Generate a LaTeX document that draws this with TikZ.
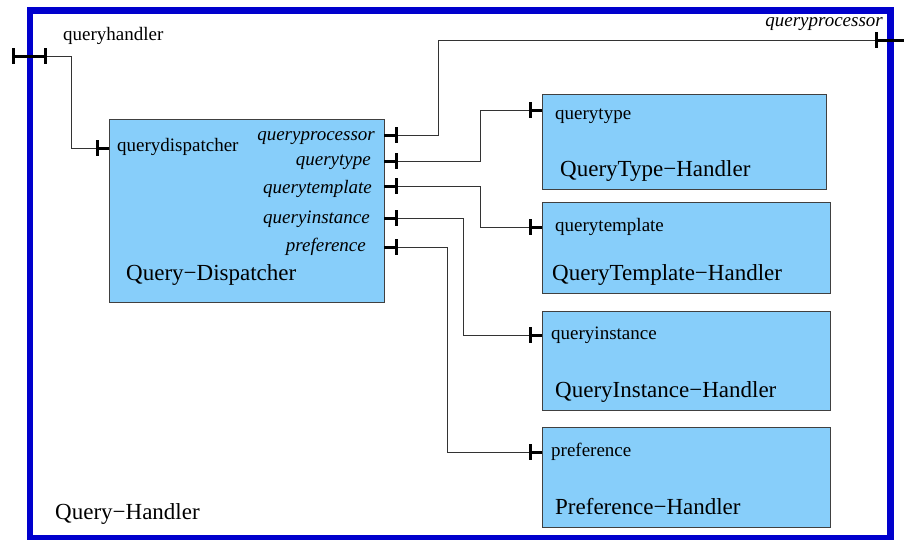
\documentclass[tikz,border=0pt]{standalone}
\usepackage{fontspec}
\setmainfont{Liberation Serif}
\usetikzlibrary{calc}
\definecolor{frameblue}{RGB}{0,0,205}
\definecolor{boxblue}{RGB}{135,206,250}
\begin{document}
\begin{tikzpicture}[x=1pt,y=-1pt,
  box/.style={draw=black!75,line width=1pt,fill=boxblue,inner sep=0pt,outer sep=0pt,anchor=north west},
  wire/.style={draw=black!80,line width=0.9pt},
  portline/.style={draw=black,line width=3pt},
  portbar/.pic={\draw[line width=3pt] (0,-8) -- (0,8);},
  lbl/.style={inner sep=0pt,font=\fontsize{19}{19}\selectfont},
  ilbl/.style={inner sep=0pt,font=\fontsize{19}{19}\selectfont\itshape},
  big/.style={inner sep=0pt,font=\fontsize{23}{23}\selectfont}]
\useasboundingbox (0,0) rectangle (904,539);

% outer frame
\node[draw=frameblue,line width=6.5pt,inner sep=0pt,outer sep=0pt,anchor=north west,
      minimum width=860.5pt,minimum height=527.5pt] (qh) at (30,10.5) {};

% boxes
\node[box,minimum width=275pt,minimum height=183pt] (qd)  at (109,119) {};
\node[box,minimum width=284pt,minimum height=95pt]  (qt)  at (542,94)  {};
\node[box,minimum width=288pt,minimum height=91pt]  (qtm) at (542,202) {};
\node[box,minimum width=288pt,minimum height=99pt]  (qi)  at (542,311) {};
\node[box,minimum width=288pt,minimum height=100pt] (pr)  at (542,427) {};

% port coordinates
\coordinate (qhout) at (13,56);
\coordinate (qhin)  at (45,56);
\coordinate (qdin)  at (97,148);
\coordinate (qdqp)  at (396,135);
\coordinate (qdqt)  at (396,161);
\coordinate (qdqtm) at (396,186);
\coordinate (qdqi)  at (396,218);
\coordinate (qdpr)  at (396,247);
\coordinate (qtin)  at (530,110);
\coordinate (qtmin) at (530,227);
\coordinate (qiin)  at (530,335);
\coordinate (prin)  at (530,452);
\coordinate (qpout) at (876,40);
\coordinate (qpend) at (906,40);

% wires
\draw[wire] (qhin) -- ++(26,0) |- (qdin);
\draw[wire] (qdqp) -- ++(42,0) |- (qpout);
\draw[wire] (qdqt) -- ++(84,0) |- (qtin);
\draw[wire] (qdqtm) -- ++(84,0) |- (qtmin);
\draw[wire] (qdqi) -- ++(67,0) |- (qiin);
\draw[wire] (qdpr) -- ++(51,0) |- (prin);

% port markers
\draw[portline] (qhout) -- (qhin);
\pic at (qhout) {portbar};
\pic at (qhin) {portbar};
\draw[portline] (qd.west |- qdin) -- (qdin);
\pic at (qdin) {portbar};
\foreach \p in {qdqp,qdqt,qdqtm,qdqi,qdpr}{
  \draw[portline] (qd.east |- \p) -- (\p);
  \pic at (\p) {portbar};
}
\foreach \p/\b in {qtin/qt,qtmin/qtm,qiin/qi,prin/pr}{
  \draw[portline] (\b.west |- \p) -- (\p);
  \pic at (\p) {portbar};
}
\draw[portline] (qpout) -- (qpend);
\pic at (qpout) {portbar};

% labels
\node[lbl,anchor=base west] (tqh) at (63,40) {queryhandler};
\node[ilbl,anchor=base east] (tqpo) at (883,26.5) {queryprocessor};
\node[big,anchor=base west] (tQH) at (55,519) {Query−Handler};

\node[lbl,anchor=base west] (tqdin) at (117,151.5) {querydispatcher};
\node[big,anchor=base west] (tQD) at (126,280.5) {Query−Dispatcher};
\node[ilbl,anchor=base east] (tqp)  at (375,140) {queryprocessor};
\node[ilbl,anchor=base east] (tqt)  at (371,165) {querytype};
\node[ilbl,anchor=base east] (tqtm) at (372,193) {querytemplate};
\node[ilbl,anchor=base east] (tqi)  at (370,223) {queryinstance};
\node[ilbl,anchor=base east] (tpr)  at (366,251.5) {preference};

\node[lbl,anchor=base west] (lqt)  at (555,119.5) {querytype};
\node[big,anchor=base west] (bqt)  at (560,176.5) {QueryType−Handler};
\node[lbl,anchor=base west] (lqtm) at (555,231.5) {querytemplate};
\node[big,anchor=base west] (bqtm) at (552,280) {QueryTemplate−Handler};
\node[lbl,anchor=base west] (lqi)  at (551,339) {queryinstance};
\node[big,anchor=base west] (bqi)  at (555,397.5) {QueryInstance−Handler};
\node[lbl,anchor=base west] (lpr)  at (551,456) {preference};
\node[big,anchor=base west] (bpr)  at (555,514) {Preference−Handler};
\end{tikzpicture}
\end{document}
